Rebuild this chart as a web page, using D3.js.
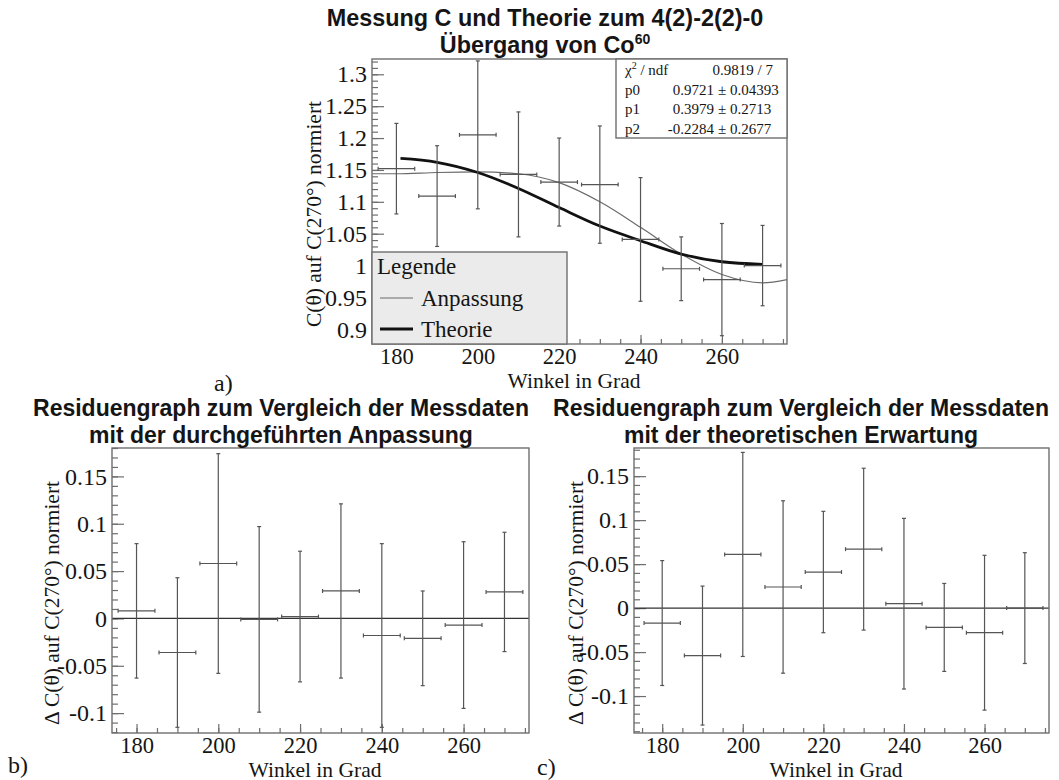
<!DOCTYPE html>
<html><head><meta charset="utf-8">
<script src="https://cdn.jsdelivr.net/npm/d3@7"></script>
<style>
body{margin:0;background:#fff}
svg{display:block}
text{font-family:"Liberation Serif","Times New Roman",serif;fill:#151515}
.ttl{font-family:"Liberation Sans",Arial,sans-serif;font-weight:bold}
</style>
</head><body>
<svg id="chart" width="1059" height="780"></svg>
<script>
// ---------- data ----------
const angles = [180,190,200,210,220,230,240,250,260,270];
const measured = [1.152,1.109,1.205,1.143,1.131,1.127,1.041,0.995,0.978,1.000];
const measErr = [0.071,0.079,0.116,0.098,0.069,0.092,0.097,0.050,0.088,0.063];
const angleErr = [4.5,4.5,4.5,4.5,4.5,4.5,4.5,4.5,4.5,4.5];
const residFit = [0.008,-0.036,0.058,-0.001,0.002,0.029,-0.018,-0.021,-0.007,0.028];
const residTheory = [-0.017,-0.054,0.061,0.024,0.041,0.067,0.005,-0.022,-0.028,0.000];
const fitAngles = [174,180,190,200,210,220,230,240,250,260,270,276];
const fitValues = [1.144,1.144,1.146,1.147,1.144,1.130,1.100,1.060,1.018,0.986,0.973,0.978];
const theoryAngles = [181,190,200,210,220,230,240,250,260,270];
const theoryValues = [1.168,1.162,1.146,1.121,1.091,1.062,1.039,1.018,1.006,1.002];

const xTicks = [180,200,220,240,260];
const xTickLabels = ["180","200","220","240","260"];
const yTicksTop = [0.9,0.95,1.0,1.05,1.1,1.15,1.2,1.25,1.3];
const yTickLabelsTop = ["0.9","0.95","1","1.05","1.1","1.15","1.2","1.25","1.3"];
const yTicksRes = [-0.1,-0.05,0,0.05,0.1,0.15];
const yTickLabelsRes = ["-0.1","-0.05","0","0.05","0.1","0.15"];

const statNames = ["p0","p1","p2"];
const statValues = ["0.9721","0.3979","-0.2284"];
const statErrors = ["± 0.04393","± 0.2713","± 0.2677"];
const chi2Text = "0.9819 / 7";
const legendNames = ["Anpassung","Theorie"];

// ---------- drawing ----------
const svg = d3.select("#chart");
const defs = svg.append("defs");
const FRAME = "#6e6e6e", ERR = "#555";

function panel(cfg){
  const x = d3.scaleLinear().domain(cfg.xDom).range([cfg.left,cfg.right]);
  const y = d3.scaleLinear().domain(cfg.yDom).range([cfg.bottom,cfg.top]);
  const g = svg.append("g");
  defs.append("clipPath").attr("id","clip"+cfg.id).append("rect")
    .attr("x",cfg.left).attr("y",cfg.top)
    .attr("width",cfg.right-cfg.left).attr("height",cfg.bottom-cfg.top);

  const styleAxis = size => s => {
    s.select(".domain").remove();
    s.selectAll("line").attr("stroke",FRAME).attr("stroke-width",1.2);
    s.selectAll("text").style("font-family",'"Liberation Serif",serif')
      .style("font-size",size+"px").attr("fill","#151515");
  };
  g.append("g").attr("transform",`translate(${cfg.left},0)`)
    .call(d3.axisLeft(y).tickValues(y.ticks(cfg.yMinorCount)).tickSize(-6).tickFormat(""))
    .call(styleAxis(24));
  g.append("g").attr("transform",`translate(${cfg.left},0)`)
    .call(d3.axisLeft(y).tickValues(cfg.yTicks).tickSize(-12).tickPadding(5)
      .tickFormat((d,i)=>cfg.yLabels[i]))
    .call(styleAxis(24));
  g.append("g").attr("transform",`translate(0,${cfg.bottom})`)
    .call(d3.axisBottom(x).tickValues(x.ticks(20)).tickSize(-5).tickFormat(""))
    .call(styleAxis(22.5));
  g.append("g").attr("transform",`translate(0,${cfg.bottom})`)
    .call(d3.axisBottom(x).tickValues(xTicks).tickSize(-9).tickPadding(4)
      .tickFormat((d,i)=>xTickLabels[i]))
    .call(styleAxis(22.5));

  const plot = g.append("g").attr("clip-path",`url(#clip${cfg.id})`);
  if(cfg.zeroLine){
    plot.append("line").attr("x1",cfg.left).attr("x2",cfg.right)
      .attr("y1",y(0)).attr("y2",y(0)).attr("stroke","#333").attr("stroke-width",1.3);
  }
  if(cfg.curves){
    cfg.curves.forEach(c=>{
      plot.append("path").datum(c.xs.map((a,i)=>[a,c.ys[i]]))
        .attr("fill","none").attr("stroke",c.color).attr("stroke-width",c.width)
        .attr("d",d3.line().x(d=>x(d[0])).y(d=>y(d[1])).curve(c.curve));
    });
  }
  const pts = angles.map((a,i)=>({a, v:cfg.values[i], e:measErr[i], ex:angleErr[i]}));
  const eb = plot.selectAll("g.eb").data(pts).join("g").attr("stroke",ERR).attr("stroke-width",1.2);
  eb.append("line").attr("x1",d=>x(d.a)).attr("x2",d=>x(d.a))
    .attr("y1",d=>y(d.v-d.e)).attr("y2",d=>y(d.v+d.e));
  eb.append("line").attr("x1",d=>x(d.a-d.ex)).attr("x2",d=>x(d.a+d.ex))
    .attr("y1",d=>y(d.v)).attr("y2",d=>y(d.v));
  [d=>d.v-d.e, d=>d.v+d.e].forEach(f=>{
    eb.append("line").attr("x1",d=>x(d.a)-2).attr("x2",d=>x(d.a)+2)
      .attr("y1",d=>y(f(d))).attr("y2",d=>y(f(d)));
  });
  [d=>d.a-d.ex, d=>d.a+d.ex].forEach(f=>{
    eb.append("line").attr("x1",d=>x(f(d))).attr("x2",d=>x(f(d)))
      .attr("y1",d=>y(d.v)-2).attr("y2",d=>y(d.v)+2);
  });

  g.append("rect").attr("x",cfg.left).attr("y",cfg.top)
    .attr("width",cfg.right-cfg.left).attr("height",cfg.bottom-cfg.top)
    .attr("fill","none").attr("stroke",FRAME).attr("stroke-width",1.4);

  g.append("text").attr("x",cfg.xTitleX).attr("y",cfg.bottom+43.5)
    .attr("text-anchor","middle").style("font-size","21.5px").text("Winkel in Grad");
  g.append("text").attr("transform",`translate(${cfg.yTitleX},${cfg.yTitleY}) rotate(-90)`)
    .attr("text-anchor","middle").attr("dominant-baseline","central")
    .style("font-size","21.5px").text(cfg.yTitle);
  cfg.title.forEach((t,i)=>{
    const tx = g.append("text").attr("class","ttl").attr("x",cfg.titleX).attr("y",cfg.titleY+27*i)
      .attr("text-anchor","middle").style("font-size",cfg.titleSize+"px");
    if(typeof t === "string") tx.text(t);
    else { tx.append("tspan").text(t[0]); tx.append("tspan").attr("dy",-9).style("font-size","14px").text(t[1]); }
  });
  g.append("text").attr("x",cfg.tagX).attr("y",cfg.tagY).style("font-size","24px").text(cfg.tag);
  return {x,y,g};
}

// Panel a
panel({id:"a", left:372,right:787,top:59,bottom:344,
  xDom:[174,276], yDom:[0.877,1.324], yTicks:yTicksTop, yLabels:yTickLabelsTop, yMinorCount:45,
  values:measured,
  curves:[{xs:fitAngles,ys:fitValues,color:"#6a6a6a",width:1.2,curve:d3.curveMonotoneX},
          {xs:theoryAngles,ys:theoryValues,color:"#111",width:2.8,curve:d3.curveCatmullRom.alpha(0.5)}],
  xTitleX:574, yTitleX:314, yTitleY:214, yTitle:"C(θ) auf C(270°) normiert",
  title:["Messung C und Theorie zum 4(2)-2(2)-0",["Übergang von Co","60"]], titleX:545, titleY:26, titleSize:23.4,
  tag:"a)", tagX:214, tagY:391});

// stats box
const sb = svg.append("g");
sb.append("rect").attr("x",616).attr("y",59).attr("width",171).attr("height",79)
  .attr("fill","#fff").attr("stroke",FRAME).attr("stroke-width",1.4);
const chi = sb.append("text").attr("x",625).attr("y",75).style("font-size","15px");
chi.append("tspan").text("χ");
chi.append("tspan").attr("dy",-6).style("font-size","10px").text("2");
chi.append("tspan").attr("dy",6).text(" / ndf");
sb.append("text").attr("x",773).attr("y",75).attr("text-anchor","end").style("font-size","15px").text(chi2Text);
statNames.forEach((n,i)=>{
  const yy = 95+19.3*i;
  sb.append("text").attr("x",625).attr("y",yy).style("font-size","15px").text(n);
  sb.append("text").attr("x",714).attr("y",yy).attr("text-anchor","end").style("font-size","15px").text(statValues[i]);
  sb.append("text").attr("x",718).attr("y",yy).style("font-size","15px").text(statErrors[i]);
});

// legend
const lg = svg.append("g");
lg.append("rect").attr("x",372).attr("y",252).attr("width",195).attr("height",92)
  .attr("fill","#ebebeb").attr("stroke",FRAME).attr("stroke-width",1.4);
lg.append("text").attr("x",377).attr("y",274).style("font-size","23px").text("Legende");
const legStyles = [{c:"#6a6a6a",w:1.2},{c:"#111",w:2.8}];
legendNames.forEach((n,i)=>{
  const yy = 298+31*i;
  lg.append("line").attr("x1",380).attr("x2",413).attr("y1",yy).attr("y2",yy)
    .attr("stroke",legStyles[i].c).attr("stroke-width",legStyles[i].w);
  lg.append("text").attr("x",421).attr("y",yy+7.5).style("font-size","23px").text(n);
});

// Panel b
panel({id:"b", left:112,right:529,top:448,bottom:733,
  xDom:[174,276], yDom:[-0.121,0.18], yTicks:yTicksRes, yLabels:yTickLabelsRes, yMinorCount:30,
  values:residFit, zeroLine:true,
  xTitleX:315, yTitleX:52, yTitleY:603, yTitle:"Δ C(θ) auf C(270°) normiert",
  title:["Residuengraph zum Vergleich der Messdaten","mit der durchgeführten Anpassung"], titleX:281, titleY:416, titleSize:23,
  tag:"b)", tagX:8, tagY:773});

// Panel c
panel({id:"c", left:634,right:1049,top:448,bottom:733,
  xDom:[173,276], yDom:[-0.142,0.182], yTicks:yTicksRes, yLabels:yTickLabelsRes, yMinorCount:32,
  values:residTheory, zeroLine:true,
  xTitleX:836, yTitleX:576, yTitleY:603, yTitle:"Δ C(θ) auf C(270°) normiert",
  title:["Residuengraph zum Vergleich der Messdaten","mit der theoretischen Erwartung"], titleX:801, titleY:416, titleSize:23,
  tag:"c)", tagX:537, tagY:775});
</script>
</body></html>
